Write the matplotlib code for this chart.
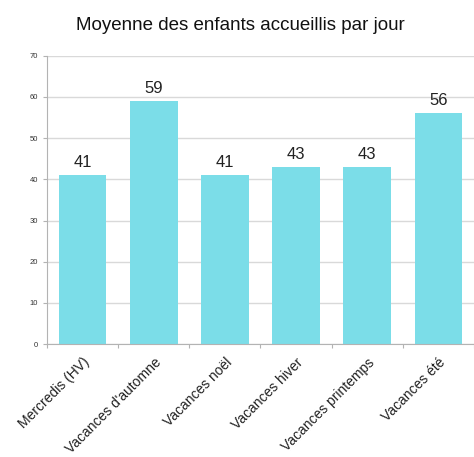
import matplotlib
matplotlib.use("Agg")
from matplotlib import pyplot as plt
import numpy as np

categories = ["Mercredis (HV)", "Vacances d'automne", "Vacances noël",
              "Vacances hiver", "Vacances printemps", "Vacances été"]
moyennes = [41, 59, 41, 43, 43, 56]
y_ticks = [0, 10, 20, 30, 40, 50, 60, 70]

plt.rcParams['font.family'] = ['Liberation Sans', 'DejaVu Sans']

fig = plt.figure(figsize=(4.74, 4.57), dpi=100)
ax = fig.add_axes([0.099, 0.247, 0.901, 0.631])

x = np.arange(len(categories))
bars = ax.bar(x, moyennes, width=0.67, color="#7BDDE8", zorder=2)
for b, v in zip(bars, moyennes):
    ax.text(b.get_x() + b.get_width() / 2, v + 1.2, str(v),
            ha="center", va="bottom", fontsize=12, color="#222222")

ax.set_xlim(-0.5, len(categories) - 0.5)
ax.set_ylim(0, 70)
ax.set_yticks(y_ticks)
ax.tick_params(axis="y", labelsize=5.5, length=3, color="#b3b3b3", labelcolor="#333333")
ax.yaxis.grid(True, color="#d9d9d9", linewidth=1, zorder=0)

# x ticks between categories, labels centred under the bars
ax.set_xticks(np.arange(len(categories) + 1) - 0.5)
ax.set_xticklabels([])
ax.set_xticks(x, minor=True)
ax.set_xticklabels(categories, minor=True, rotation=45, ha="right",
                   rotation_mode="anchor", fontsize=10, color="#222222")
ax.tick_params(axis="x", which="major", length=3, color="#b3b3b3")
ax.tick_params(axis="x", which="minor", length=0, pad=8)

for s in ["top", "right"]:
    ax.spines[s].set_visible(False)
for s in ["left", "bottom"]:
    ax.spines[s].set_color("#b3b3b3")

fig.text(0.507, 0.945, "Moyenne des enfants accueillis par jour",
         ha="center", va="center", fontsize=13.5, color="#111111")

plt.savefig("out.png", dpi=100)
